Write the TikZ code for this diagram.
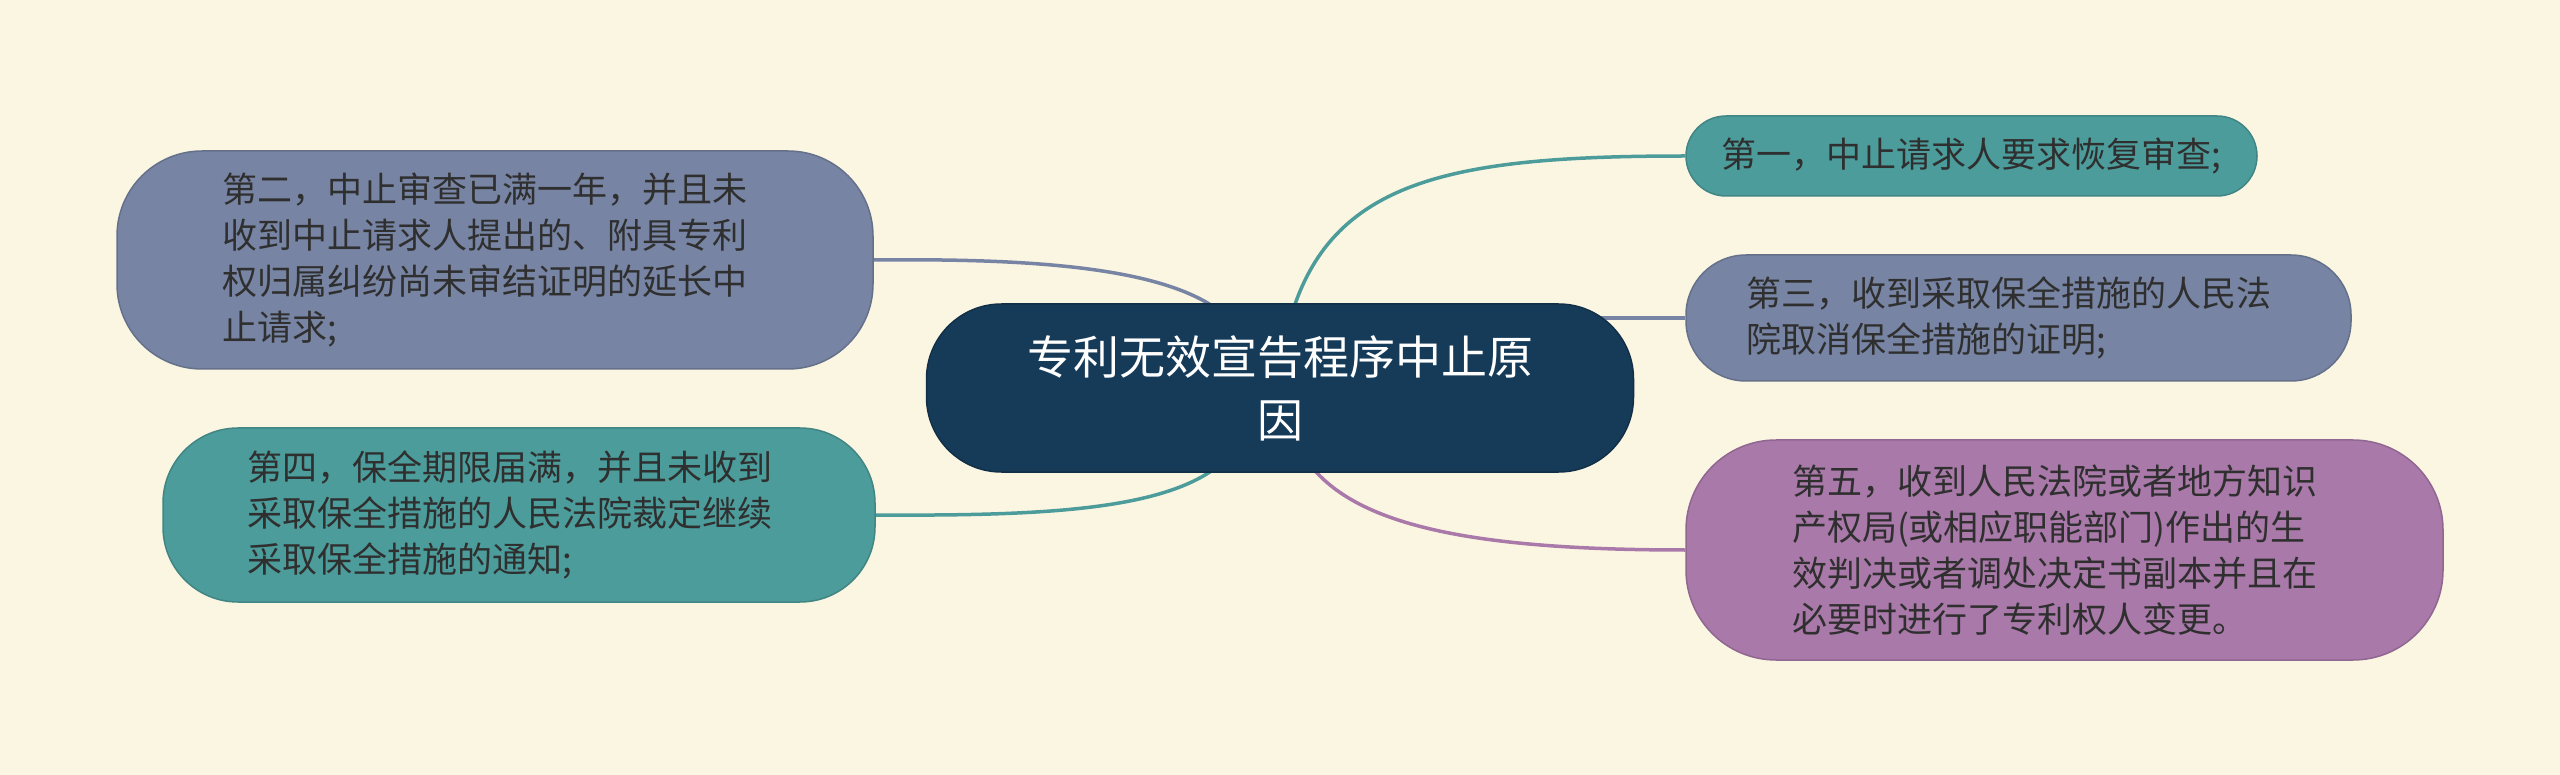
\documentclass[tikz,border=0pt]{standalone}
\usepackage{fontspec}
\newfontfamily\cjk{Noto Sans CJK SC}
\usetikzlibrary{calc,backgrounds}
\definecolor{bgc}{HTML}{FBF6E2}
\definecolor{navy}{HTML}{163B59}
\definecolor{tealc}{HTML}{4C9C9B}
\definecolor{slatec}{HTML}{7784A3}
\definecolor{purplec}{HTML}{A979A9}
\definecolor{txt}{HTML}{2F2F2F}
\tikzset{
  childbox/.style={draw=#1!85!black, fill=#1, line width=1.5pt, inner sep=0pt,
    text=txt, font=\cjk\fontsize{35}{46}\selectfont, align=left},
  conn/.style={line width=3.5pt, draw=#1},
}
\begin{document}
\begin{tikzpicture}[x=1pt,y=-1pt]
\useasboundingbox (0,0) rectangle (2560,775);
% central
\node[draw=navy!80!black, fill=navy, line width=1.5pt, rounded corners=75pt,
  minimum width=707pt, minimum height=168pt, inner sep=0pt, text=white,
  font=\cjk\fontsize{46}{63}\selectfont, align=center]
  (c) at (1280,388) {专利无效宣告程序中止原\\因};
% children
\node[childbox=tealc, rounded corners=40pt, minimum width=571pt, minimum height=80pt]
  (n1) at (1971.5,156) {第一，中止请求人要求恢复审查;};
\node[childbox=slatec, rounded corners=60pt, minimum width=665pt, minimum height=126pt, text width=545pt]
  (n3) at (2018.5,318) {第三，收到采取保全措施的人民法\\院取消保全措施的证明;};
\node[childbox=purplec, rounded corners=90pt, minimum width=757pt, minimum height=220pt, text width=545pt]
  (n5) at (2064.5,550) {第五，收到人民法院或者地方知识\\产权局(或相应职能部门)作出的生\\效判决或者调处决定书副本并且在\\必要时进行了专利权人变更。};
\node[childbox=slatec, rounded corners=85pt, minimum width=756pt, minimum height=218pt, text width=545pt]
  (n2) at (495,260) {第二，中止审查已满一年，并且未\\收到中止请求人提出的、附具专利\\权归属纠纷尚未审结证明的延长中\\止请求;};
\node[childbox=tealc, rounded corners=75pt, minimum width=712pt, minimum height=174pt, text width=543pt]
  (n4) at (519,515) {第四，保全期限届满，并且未收到\\采取保全措施的人民法院裁定继续\\采取保全措施的通知;};
\begin{pgfonlayer}{background}
\fill[bgc] (0,0) rectangle (2560,775);
\draw[conn=tealc] ($(c.center)+(10,-68)$) .. controls (1330,180) and (1450,156) .. (n1.west);
\draw[conn=slatec] ($(c.center)+(220,-70)$) -- (n3.west);
\draw[conn=purplec] ($(c.center)+(20,62)$) .. controls (1340,520) and (1450,550) .. (n5.west);
\draw[conn=slatec] ($(c.center)+(-50,-68)$) .. controls (1180,270) and (1050,258) .. (n2.east);
\draw[conn=tealc] ($(c.center)+(-50,67)$) .. controls (1180,510) and (1050,516) .. (n4.east);
\end{pgfonlayer}
\end{tikzpicture}
\end{document}
